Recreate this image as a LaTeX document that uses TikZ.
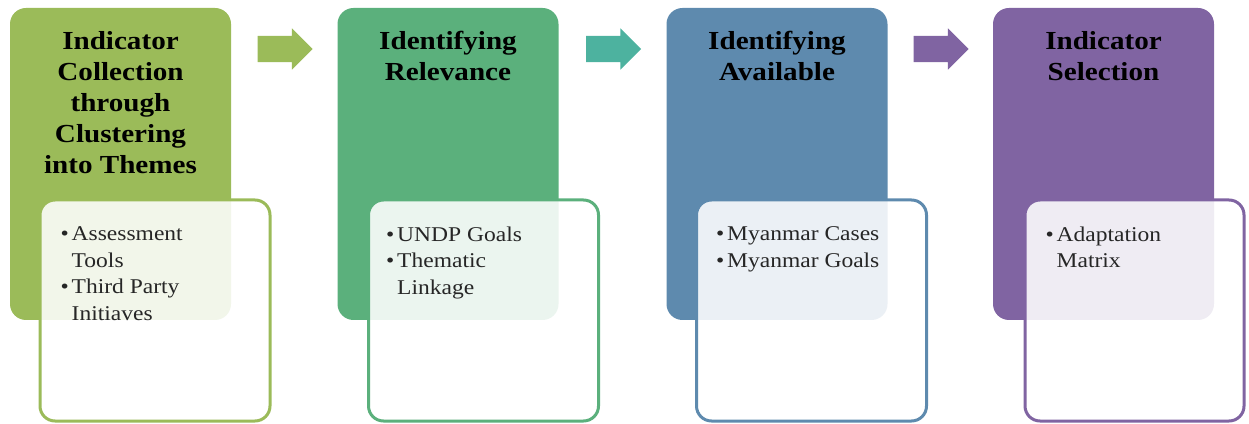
\documentclass[tikz,border=0pt]{standalone}
\usepackage{fontspec}
\setmainfont[FakeStretch=1.12]{Liberation Serif}
\usepackage{xcolor}
\usetikzlibrary{shapes.arrows, positioning}

\definecolor{collectGreen}{HTML}{9BBB59}
\definecolor{relevGreen}{HTML}{5BB07C}
\definecolor{tealFlow}{HTML}{4DB29F}
\definecolor{availBlue}{HTML}{5E8AAE}
\definecolor{selectPurple}{HTML}{8064A2}

% bullet and continuation indent for the list lines
\newcommand{\itm}{\makebox[11pt][l]{\textbullet}}
\newcommand{\cont}{\hspace*{11pt}}

\begin{document}
\begin{tikzpicture}[x=1pt, y=1pt,
  headbox/.style={rounded corners=16pt, minimum width=221pt, minimum height=312pt, inner sep=0pt},
  listbox/.style={draw=#1, line width=3pt, fill=white, fill opacity=0.88,
                  rounded corners=15pt, minimum height=221pt, inner sep=0pt},
  heading/.style={anchor=north, inner sep=0pt, align=center,
                  font=\fontsize{26}{31}\selectfont\bfseries},
  items/.style={anchor=north west, inner sep=0pt, align=left,
                text=black!85, font=\fontsize{21}{26.5}\selectfont},
  flow/.style={single arrow, fill=#1, minimum height=55pt, inner xsep=0pt, inner ysep=13pt,
               single arrow head extend=7.5pt, single arrow head indent=0pt}
]
  \useasboundingbox (0,0) rectangle (1249,423);

  % coloured heads
  \node[headbox, fill=collectGreen] (collect) at (120.5,259) {};
  \node[headbox, fill=relevGreen]   (relev)   at (448,259)   {};
  \node[headbox, fill=availBlue]    (avail)   at (777,259)   {};
  \node[headbox, fill=selectPurple] (select)  at (1103.5,259) {};

  \node[heading] (collectT) at ([yshift=-23pt]collect.north)
    {Indicator\\Collection\\through\\Clustering\\into Themes};
  \node[heading] (relevT) at ([yshift=-23pt]relev.north) {Identifying\\Relevance};
  \node[heading] (availT) at ([yshift=-23pt]avail.north) {Identifying\\Available};
  \node[heading] (selectT) at ([yshift=-23pt]select.north) {Indicator\\Selection};

  % block arrows between the steps
  \node[flow=collectGreen] (f1) at (278.5,374) {};
  \node[flow=tealFlow]     (f2) at (607,374)   {};
  \node[flow=selectPurple] (f3) at (934.5,374) {};

  % white list boxes over the heads
  \node[listbox=collectGreen, minimum width=230pt] (collectL) at (155,112.5)   {};
  \node[listbox=relevGreen,   minimum width=230pt] (relevL)   at (483.5,112.5) {};
  \node[listbox=availBlue,    minimum width=230pt] (availL)   at (811.5,112.5) {};
  \node[listbox=selectPurple, minimum width=219pt] (selectL)  at (1134.5,112.5) {};

  \node[items] (collectI) at ([xshift=22pt, yshift=-28pt]collectL.north west)
    {\itm Assessment\\\cont Tools\\\itm Third Party\\\cont Initiaves};
  \node[items] (relevI) at ([xshift=19pt, yshift=-28pt]relevL.north west)
    {\itm UNDP Goals\\\itm Thematic\\\cont Linkage};
  \node[items] (availI) at ([xshift=21pt, yshift=-28pt]availL.north west)
    {\itm Myanmar Cases\\\itm Myanmar Goals};
  \node[items] (selectI) at ([xshift=22pt, yshift=-28pt]selectL.north west)
    {\itm Adaptation\\\cont Matrix};
\end{tikzpicture}
\end{document}
